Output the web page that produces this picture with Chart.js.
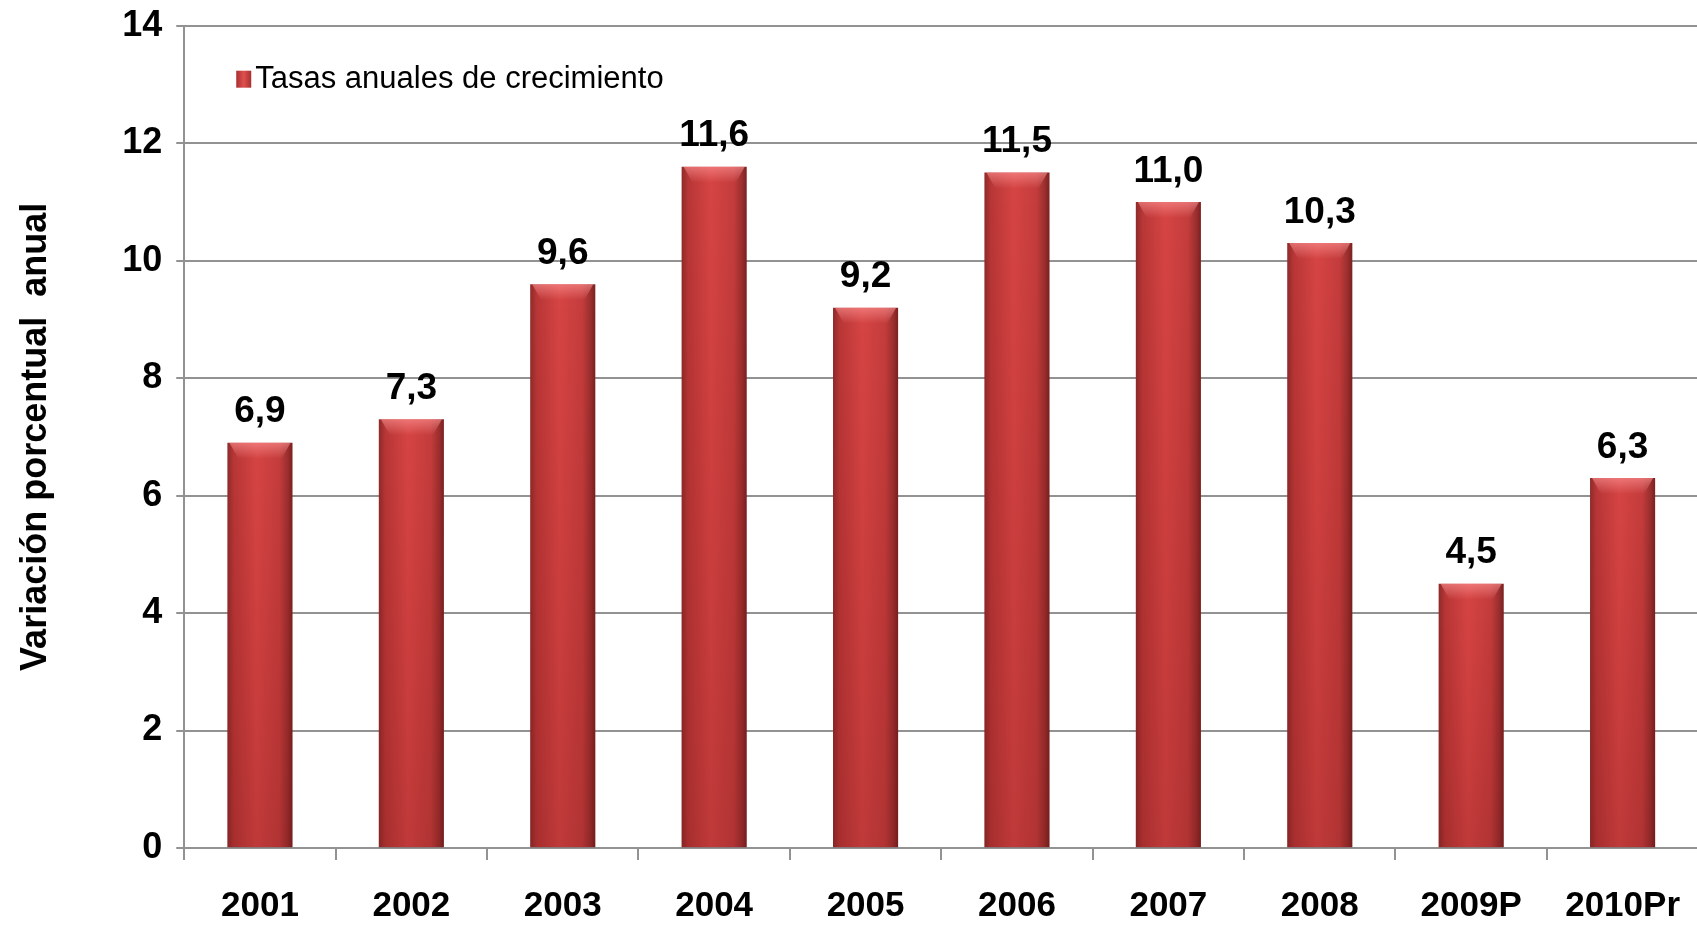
<!DOCTYPE html>
<html lang="es">
<head>
<meta charset="UTF-8">
<title>Tasas anuales de crecimiento</title>
<script src="https://cdn.jsdelivr.net/npm/chart.js"></script>
<style>
  html, body { margin: 0; padding: 0; background: #fff; overflow: hidden; }
  #wrap { width: 1709px; height: 929px; }
</style>
</head>
<body>
<div id="wrap"><canvas id="grafico"></canvas></div>
<script>
    // datos
    const anios = ['2001', '2002', '2003', '2004', '2005', '2006', '2007', '2008', '2009P', '2010Pr'];
    const tasas = [6.9, 7.3, 9.6, 11.6, 9.2, 11.5, 11.0, 10.3, 4.5, 6.3];
    const serieNombre = 'Tasas anuales de crecimiento';
    const ejeYTitulo = 'Variación porcentual  anual';

    const fuente = "'Liberation Sans', Arial, sans-serif";
    const porcentajeBarra = 0.43;

    // degradado horizontal para dar efecto de cilindro a cada barra
    function colorBarra(ctx) {
        const chart = ctx.chart;
        const x = chart.scales.x;
        if (!chart.chartArea || !x || ctx.dataIndex === undefined) return '#c43a3a';
        const centro = x.getPixelForValue(ctx.dataIndex);
        const ancho = (x.width / anios.length) * porcentajeBarra;
        const g = chart.ctx.createLinearGradient(centro - ancho / 2, 0, centro + ancho / 2, 0);
        g.addColorStop(0, '#8e2a2a');
        g.addColorStop(0.1, '#b83636');
        g.addColorStop(0.45, '#d64444');
        g.addColorStop(0.8, '#c43c3c');
        g.addColorStop(0.93, '#9a2e2e');
        g.addColorStop(1, '#7a2020');
        return g;
    }

    const etiquetasValor = {
        id: 'etiquetasValor',
        afterDatasetsDraw(chart) {
            const c = chart.ctx;
            const meta = chart.getDatasetMeta(0);
            const a = chart.chartArea;
            c.save();
            meta.data.forEach(function (bar) {
                const w = bar.width;
                // tapa clara arriba de cada barra
                const g = c.createLinearGradient(0, bar.y, 0, bar.y + 16);
                g.addColorStop(0, 'rgba(255,150,150,0.6)');
                g.addColorStop(1, 'rgba(255,150,150,0)');
                c.fillStyle = g;
                c.beginPath();
                c.moveTo(bar.x - w / 2 + 2, bar.y);
                c.lineTo(bar.x + w / 2 - 2, bar.y);
                c.lineTo(bar.x + w / 2 - 11, bar.y + 16);
                c.lineTo(bar.x - w / 2 + 11, bar.y + 16);
                c.closePath();
                c.fill();
                // sombra suave hacia la base
                const g3 = c.createLinearGradient(0, bar.y, 0, a.bottom);
                g3.addColorStop(0, 'rgba(120,0,0,0)');
                g3.addColorStop(1, 'rgba(90,10,10,0.18)');
                c.fillStyle = g3;
                c.fillRect(bar.x - w / 2, bar.y, w, a.bottom - bar.y);
            });
            c.fillStyle = '#000';
            c.font = 'bold 37px ' + fuente;
            c.textAlign = 'center';
            c.textBaseline = 'bottom';
            meta.data.forEach(function (bar, i) {
                c.fillText(tasas[i].toFixed(1).replace('.', ','), bar.x, bar.y - 12);
            });
            // leyenda dentro del area
            const lx = a.left + 52, ly = a.top + 53;
            const g2 = c.createLinearGradient(lx, 0, lx + 15, 0);
            g2.addColorStop(0, '#a83030');
            g2.addColorStop(0.5, '#e05050');
            g2.addColorStop(1, '#a83030');
            c.fillStyle = g2;
            c.fillRect(lx, ly - 8, 15, 17);
            c.fillStyle = '#000';
            c.font = '31px ' + fuente;
            c.textAlign = 'left';
            c.textBaseline = 'middle';
            c.fillText(serieNombre, lx + 19, ly + 1);
            c.restore();
        }
    };

    new Chart(document.getElementById('grafico'), {
        type: 'bar',
        data: {
            labels: anios,
            datasets: [{
                label: serieNombre,
                data: tasas,
                backgroundColor: colorBarra,
                categoryPercentage: 1,
                barPercentage: porcentajeBarra
            }]
        },
        options: {
            responsive: true,
            maintainAspectRatio: false,
            animation: false,
            layout: { padding: { top: 0, right: 0, bottom: -24, left: 10 } },
            plugins: {
                legend: { display: false },
                tooltip: { enabled: false }
            },
            scales: {
                x: {
                    grid: { offset: true, drawOnChartArea: false, color: '#929292', lineWidth: 2, tickLength: 12 },
                    border: { color: '#929292', width: 2 },
                    ticks: { color: '#000', font: { family: fuente, size: 35, weight: 'bold', lineHeight: 1 }, padding: 29, maxRotation: 0 }
                },
                y: {
                    min: 0,
                    max: 14,
                    ticks: { stepSize: 2, color: '#000', font: { family: fuente, size: 36, weight: 'bold', lineHeight: 0.65 }, padding: 14 },
                    grid: { color: '#929292', lineWidth: 2, tickLength: 8 },
                    border: { color: '#929292', width: 2 },
                    title: {
                        display: true,
                        text: ejeYTitulo,
                        color: '#000',
                        font: { family: fuente, size: 36, weight: 'bold' },
                        padding: { bottom: 51 }
                    }
                }
            }
        },
        plugins: [etiquetasValor]
    });
</script>
</body>
</html>
